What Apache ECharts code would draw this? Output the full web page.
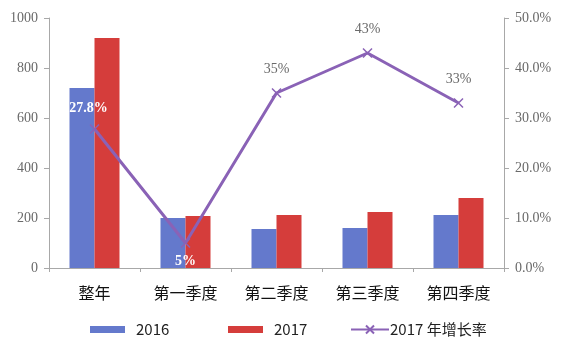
<!DOCTYPE html>
<html><head><meta charset="utf-8">
<script src="https://cdn.jsdelivr.net/npm/echarts@6/dist/echarts.min.js"></script>
<style>html,body{margin:0;padding:0;background:#fff}#c{width:573px;height:351px}</style>
</head><body><div id="c"></div>
<script>
const categories = ['整年', '第一季度', '第二季度', '第三季度', '第四季度'];
const values2016 = [720, 200, 156, 160, 212];
const values2017 = [920, 208, 212, 224, 280];
const growth2017 = [0.278, 0.05, 0.35, 0.43, 0.33];
const growthLabels = ['27.8%', '5%', '35%', '43%', '33%'];
const leftTicks = [0, 200, 400, 600, 800, 1000];

const chart = echarts.init(document.getElementById('c'), null, {renderer: 'canvas'});
const serif = 'Liberation Serif';
const axisGrey = '#a8a8a8';
const labelColor = '#6a6a6a';
const legendText = {fontFamily: 'Noto Sans CJK SC', fontSize: 15, color: '#222'};
chart.setOption({
  animation: false,
  grid: {left: 49, right: 69, top: 18, bottom: 83},
  legend: [
    {top: 317, left: 85, itemWidth: 35, itemHeight: 7,
      textStyle: Object.assign({padding: [0, 0, 0, 6]}, legendText),
      data: [{name: '2016', icon: 'rect'}]},
    {top: 317, left: 223, itemWidth: 35, itemHeight: 7,
      textStyle: Object.assign({padding: [0, 0, 0, 6]}, legendText),
      data: [{name: '2017', icon: 'rect'}]},
    {top: 317, left: 345, itemWidth: 38, itemHeight: 10,
      textStyle: Object.assign({padding: [0, 0, 0, -4]}, legendText),
      data: [{name: '2017 年增长率'}]}
  ],
  xAxis: {
    type: 'category', data: categories,
    axisLine: {lineStyle: {color: axisGrey}},
    axisTick: {show: true, alignWithLabel: false, length: 4, lineStyle: {color: axisGrey}},
    axisLabel: {fontFamily: 'Noto Sans CJK SC', fontSize: 16, color: '#111', margin: 17}
  },
  yAxis: [
    {
      type: 'value', min: leftTicks[0], max: leftTicks[leftTicks.length - 1], interval: 200,
      splitLine: {show: false},
      axisLine: {show: true, lineStyle: {color: axisGrey}},
      axisTick: {show: true, length: 5, lineStyle: {color: axisGrey}},
      axisLabel: {fontFamily: serif, fontSize: 14, color: labelColor, margin: 11,
        formatter: v => String(v)}
    },
    {
      type: 'value', min: 0, max: 0.5, interval: 0.1, position: 'right',
      splitLine: {show: false},
      axisLine: {show: true, lineStyle: {color: axisGrey}},
      axisTick: {show: true, length: 5, lineStyle: {color: axisGrey}},
      axisLabel: {fontFamily: serif, fontSize: 14, color: labelColor, margin: 11,
        formatter: v => (v * 100).toFixed(1) + '%'}
    }
  ],
  series: [
    {
      name: '2016', type: 'bar', data: values2016, barWidth: 25, barGap: '0%',
      itemStyle: {color: '#6479cc'}
    },
    {
      name: '2017', type: 'bar', data: values2017, barWidth: 25,
      itemStyle: {color: '#d53d3b'}
    },
    {
      name: '2017 年增长率', type: 'line', yAxisIndex: 1, z: 5,
      data: growth2017.map((v, i) => {
        const inside = i < 2;
        return {
          value: v,
          label: {
            show: true,
            formatter: growthLabels[i],
            position: i === 1 ? 'bottom' : 'top',
            distance: i === 0 ? 8 : (i === 1 ? 6 : 11),
            offset: i === 0 ? [-6, 0] : [0, 0],
            color: inside ? '#fff' : labelColor,
            fontFamily: serif,
            fontSize: 14,
            fontWeight: inside ? 'bold' : 'normal'
          }
        };
      }),
      symbol: 'path://M0,0L10,10M10,0L0,10',
      symbolSize: 9,
      lineStyle: {color: '#8a62b6', width: 3},
      itemStyle: {color: '#8a62b6', borderColor: '#8a62b6', borderWidth: 1.5}
    }
  ]
});
</script></body></html>
